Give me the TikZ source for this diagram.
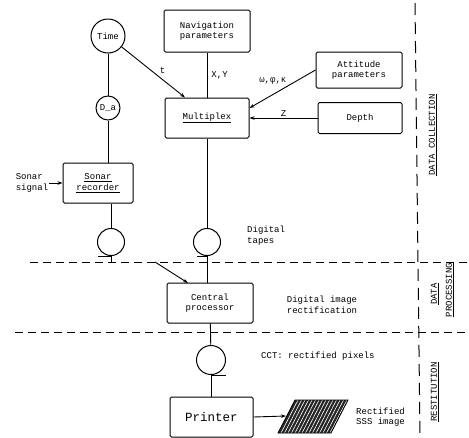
\documentclass[tikz,border=0pt]{standalone}
\usepackage{fontspec}
\setmainfont{Liberation Mono}
\usetikzlibrary{arrows.meta,calc}
\begin{document}
\begin{tikzpicture}[x=1pt,y=-1pt,
  every node/.style={font=\fontsize{9}{10.5}\selectfont, inner sep=1pt},
  blk/.style={draw, line width=1pt, rounded corners=1.5pt, align=center, inner sep=0pt},
  disc/.style={draw, circle, line width=1pt, inner sep=0pt},
  tape/.style={disc, minimum size=27pt},
  conn/.style={line width=0.9pt},
  arr/.style={conn, -{Stealth[length=5pt,width=3.5pt]}},
  sep/.style={line width=1pt, dash pattern=on 8pt off 5pt},
  vsep/.style={line width=1pt, dash pattern=on 12pt off 7pt},
  lbl/.style={align=left},
  phase/.style={rotate=90}
]
\useasboundingbox (0,0) rectangle (469,437);

% phase separators
\coordinate (s1a) at (30,262);  \coordinate (s1b) at (469,262);
\coordinate (s2a) at (15,332);  \coordinate (s2b) at (469,332);
\coordinate (vsa) at (415,3);   \coordinate (vsb) at (420,437);
\draw[sep] (s1a) -- (s1b);
\draw[sep] (s2a) -- (s2b);
\draw[vsep] (vsa) -- (vsb);

% data collection
\node[disc, minimum size=34pt] (time) at (108,36) {Time};
\node[disc, minimum size=24pt] (da) at (108,108) {D\_a};
\node[blk, minimum width=70pt, minimum height=40pt] (rec) at (98,183)
  {\underline{Sonar}\\\underline{recorder}};
\node[lbl] (sig) at (32,183) {Sonar\\signal};
\node[blk, minimum width=86pt, minimum height=42pt] (nav) at (207,31)
  {Navigation\\parameters};
\node[blk, minimum width=84pt, minimum height=40pt] (mux) at (207,118)
  {\underline{Multiplex}};
\node[blk, minimum width=86pt, minimum height=36pt] (att) at (359,70)
  {Attitude\\parameters};
\node[blk, minimum width=84pt, minimum height=31pt] (depth) at (360,118)
  {Depth};

% tapes
\node[tape] (tape1) at (111,242) {};
\node[tape] (tape2) at (207,242) {};
\node[tape, minimum size=29pt] (tape3) at (211,360) {};
\draw[conn] (tape1.south) -- ++(-13,0);
\draw[conn] (tape2.south) -- ++(-10,0);
\draw[conn] (tape3.south) -- ++(15,0);

% processing and restitution
\node[blk, minimum width=86pt, minimum height=40pt] (cpu) at (210,303)
  {Central\\processor};
\node[blk, minimum width=83pt, minimum height=40pt,
  font=\fontsize{12.5}{14}\selectfont] (prn) at (211.5,417) {Printer};

% rectified image
\coordinate (pBL) at (278,433); \coordinate (pTL) at (295,400);
\coordinate (pTR) at (348,400); \coordinate (pBR) at (331,433);
\begin{scope}
  \clip (pBL) -- (pTL) -- (pTR) -- (pBR) -- cycle;
  \fill[black!85] (pBL) -- (pTL) -- (pTR) -- (pBR) -- cycle;
  \foreach \t in {3,6.5,...,54}
    \draw[white, line width=0.6pt] ($(pBL)+(\t,0)$) -- ($(pTL)+(\t,0)$);
\end{scope}
\draw[line width=0.8pt] (pBL) -- (pTL) -- (pTR) -- (pBR) -- cycle;
\coordinate (pin) at (286,416);

% connectors
\coordinate (muxT) at ($(mux.north)+(-22,0)$);
\coordinate (muxA) at ($(mux.east)+(0,-10)$);
\coordinate (dl) at (155,262);
\coordinate (cpuA) at (188,283);
\coordinate (t1end) at (111,262);

\draw[conn] (time) -- (da);
\draw[conn] (da) -- (da |- rec.north);
\draw[arr] (time) -- (muxT) node[pos=0.55, above right, xshift=2pt] {t};
\draw[conn] (nav) -- (mux) node[midway, right=3pt] {X,Y};
\draw[arr] (att.west) -- (muxA) node[pos=0.45, above left, xshift=2pt, yshift=1pt] {ω,φ,κ};
\draw[arr] (depth.west) -- (depth.west -| mux.east) node[midway, above] {Z};
\draw[arr] (sig.east) -- (sig.east -| rec.west);
\draw[conn] (rec.south -| tape1) -- (tape1);
\draw[conn] (tape1.south) -- (t1end);
\draw[conn] (mux) -- (tape2);
\draw[conn] (tape2) -- (tape2 |- cpu.north);
\draw[arr] (dl) -- (cpuA);
\draw[conn] (cpu) -- (tape3);
\draw[conn] (tape3) -- (tape3 |- prn.north);
\draw[arr] (prn.east) -- (pin);

% annotations
\node[lbl, anchor=north west] (tapes) at (246,225) {Digital\\tapes};
\node[align=center] (rectif) at (322,305) {Digital image\\rectification};
\node[anchor=west] (cct) at (260,356) {CCT: rectified pixels};
\node[lbl, anchor=west] (sss) at (355,417) {Rectified\\SSS image};

% phase labels
\node[phase] (pcol) at (433,135) {\underline{DATA COLLECTION}};
\node[phase] (pdat) at (435,294) {\underline{DATA}};
\node[phase] (ppro) at (450,290) {\underline{PROCESSING}};
\node[phase] (pres) at (435,392) {\underline{RESTITUTION}};
\end{tikzpicture}
\end{document}
